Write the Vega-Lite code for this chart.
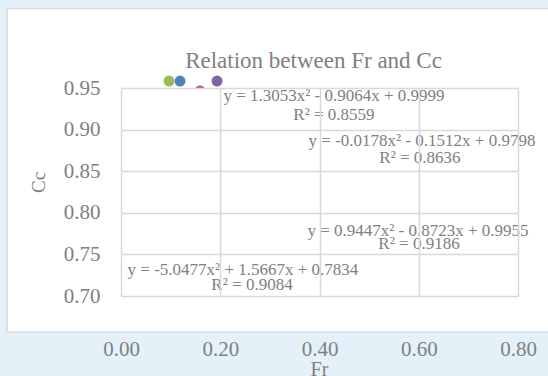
{
  "$schema": "https://vega.github.io/schema/vega-lite/v6.json",
  "width": 397,
  "height": 208,
  "autosize": "none",
  "padding": {"left": 121, "top": 88, "right": 30, "bottom": 80},
  "background": "#e4f1f8",
  "config": {
    "view": {"stroke": null},
    "font": "Liberation Serif",
    "axis": {
      "grid": true, "gridColor": "#d9d9d9", "gridWidth": 1.5,
      "domain": false, "ticks": false, "tickSize": 0, "labelFlush": false,
      "labelFont": "Liberation Serif", "labelFontSize": 21, "labelColor": "#808080",
      "titleFont": "Liberation Serif", "titleFontWeight": "normal", "titleColor": "#808080"
    },
    "axisX": {
      "labelPadding": 59, "labelBaseline": "alphabetic",
      "titleFontSize": 20, "titleX": 198, "titleY": 79, "titleBaseline": "alphabetic", "titleAlign": "center"
    },
    "axisY": {
      "labelPadding": 21,
      "titleFontSize": 19, "titleX": -83, "titleY": 94, "titleAngle": -90, "titleBaseline": "middle", "titleAlign": "center"
    }
  },
  "title": {
    "text": "Relation between Fr and Cc",
    "font": "Liberation Serif",
    "fontSize": 23,
    "fontWeight": "normal",
    "color": "#808080",
    "anchor": "middle",
    "frame": "group",
    "baseline": "alphabetic",
    "offset": -83.5,
    "dx": -6
  },
  "layer": [
    {
      "data": {"values": [{"part": "chart area"}]},
      "mark": {"type": "rect", "fill": "#ffffff", "stroke": "#d9d9d9", "strokeWidth": 1.5, "clip": false},
      "encoding": {
        "x": {"datum": -0.2297, "type": "quantitative", "scale": {"domain": [0, 0.8], "nice": false, "zero": false},
              "axis": {"values": [0, 0.2, 0.4, 0.6, 0.8], "format": ".2f", "title": "Fr", "zindex": 1}},
        "x2": {"datum": 0.95},
        "y": {"datum": 0.6567, "type": "quantitative", "scale": {"domain": [0.7, 0.95], "nice": false, "zero": false},
              "axis": {"values": [0.7, 0.75, 0.8, 0.85, 0.9, 0.95], "format": ".2f", "title": "Cc", "zindex": 1}},
        "y2": {"datum": 1.0456}
      }
    },
    {
      "data": {"values": [
        {"series": "Series 1", "Fr": 0.0967, "Cc": 0.9584},
        {"series": "Series 2", "Fr": 0.119, "Cc": 0.9584},
        {"series": "Series 3", "Fr": 0.1592, "Cc": 0.9464},
        {"series": "Series 4", "Fr": 0.1935, "Cc": 0.9584}
      ]},
      "mark": {"type": "circle", "size": 120, "opacity": 1, "clip": false},
      "encoding": {
        "x": {"field": "Fr", "type": "quantitative", "scale": {"domain": [0, 0.8], "nice": false, "zero": false},
              "axis": {"values": [0, 0.2, 0.4, 0.6, 0.8], "format": ".2f", "title": "Fr", "zindex": 1}},
        "y": {"field": "Cc", "type": "quantitative", "scale": {"domain": [0.7, 0.95], "nice": false, "zero": false},
              "axis": {"values": [0.7, 0.75, 0.8, 0.85, 0.9, 0.95], "format": ".2f", "title": "Cc", "zindex": 1}},
        "color": {
          "field": "series", "type": "nominal",
          "scale": {"domain": ["Series 1", "Series 2", "Series 3", "Series 4"], "range": ["#9bbb59", "#4f81bd", "#c0504d", "#8064a2"]},
          "legend": null
        }
      }
    },
    {
      "data": {"values": [{"part": "plot area"}]},
      "mark": {"type": "rect", "fill": "#ffffff", "strokeWidth": 0},
      "encoding": {
        "x": {"datum": 0, "type": "quantitative", "scale": {"domain": [0, 0.8], "nice": false, "zero": false},
              "axis": {"values": [0, 0.2, 0.4, 0.6, 0.8], "format": ".2f", "title": "Fr", "zindex": 1}},
        "x2": {"datum": 0.8},
        "y": {"datum": 0.7, "type": "quantitative", "scale": {"domain": [0.7, 0.95], "nice": false, "zero": false},
              "axis": {"values": [0.7, 0.75, 0.8, 0.85, 0.9, 0.95], "format": ".2f", "title": "Cc", "zindex": 1}},
        "y2": {"datum": 0.95}
      }
    },
    {
      "data": {"values": [
        {"label": "y = 1.3053x² - 0.9064x + 0.9999", "Fr": 0.4292, "Cc": 0.9344},
        {"label": "R² = 0.8559", "Fr": 0.4292, "Cc": 0.9115},
        {"label": "y = -0.0178x² - 0.1512x + 0.9798", "Fr": 0.6066, "Cc": 0.8803},
        {"label": "R² = 0.8636", "Fr": 0.6025, "Cc": 0.8599},
        {"label": "y = 0.9447x² - 0.8723x + 0.9955", "Fr": 0.5985, "Cc": 0.7721},
        {"label": "R² = 0.9186", "Fr": 0.6005, "Cc": 0.7565},
        {"label": "y = -5.0477x² + 1.5667x + 0.7834", "Fr": 0.2458, "Cc": 0.7252},
        {"label": "R² = 0.9084", "Fr": 0.264, "Cc": 0.7072}
      ]},
      "mark": {"type": "text", "font": "Liberation Serif", "fontSize": 17, "color": "#808080", "align": "center", "baseline": "alphabetic", "clip": false},
      "encoding": {
        "x": {"field": "Fr", "type": "quantitative", "scale": {"domain": [0, 0.8], "nice": false, "zero": false},
              "axis": {"values": [0, 0.2, 0.4, 0.6, 0.8], "format": ".2f", "title": "Fr", "zindex": 1}},
        "y": {"field": "Cc", "type": "quantitative", "scale": {"domain": [0.7, 0.95], "nice": false, "zero": false},
              "axis": {"values": [0.7, 0.75, 0.8, 0.85, 0.9, 0.95], "format": ".2f", "title": "Cc", "zindex": 1}},
        "text": {"field": "label", "type": "nominal"}
      }
    }
  ]
}
